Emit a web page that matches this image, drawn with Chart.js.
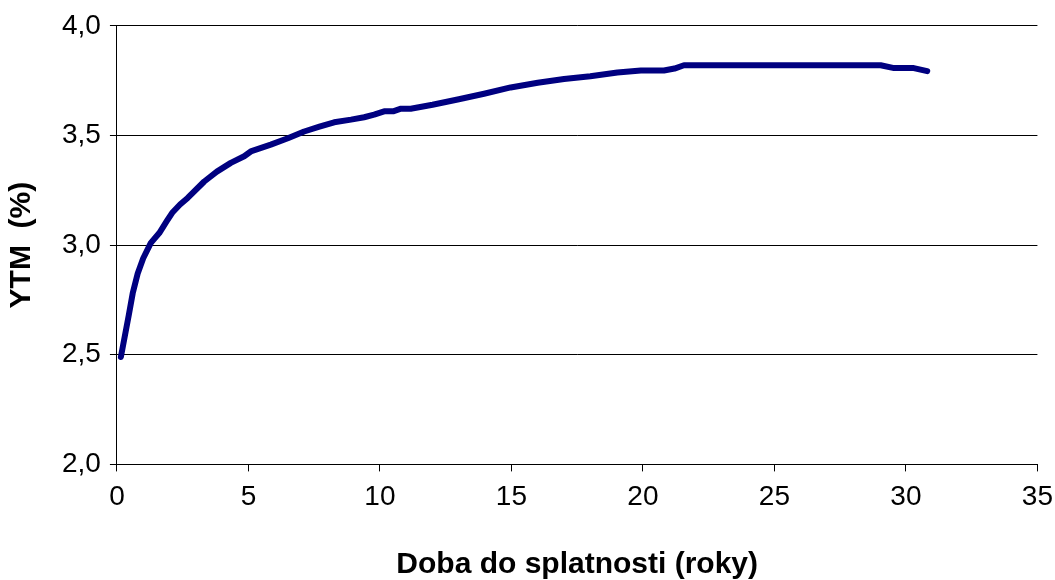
<!DOCTYPE html>
<html>
<head>
<meta charset="utf-8">
<script src="https://cdn.jsdelivr.net/npm/chart.js@4/dist/chart.umd.min.js"></script>
<style>
  html, body { margin: 0; padding: 0; background: #fff; overflow: hidden; }
  #wrap { width: 1055px; height: 580px; position: relative; overflow: hidden; }
</style>
</head>
<body>
<div id="wrap"><canvas id="c" width="1062" height="580"></canvas></div>
<script>
// Maturity (years) and YTM (%)
const maturity = [0.15, 0.45, 0.6, 0.79, 1.0, 1.29, 1.61, 1.9, 2.12, 2.4, 2.69, 3.32, 3.8, 4.33, 4.84, 5.09, 5.85, 6.5, 7.12, 7.7, 8.26, 8.9, 9.4, 9.78, 10.16, 10.5, 10.8, 11.17, 12, 13, 13.96, 14.97, 16, 17, 18, 19.03, 19.92, 20.8, 21.2, 21.56, 22.2, 29.04, 29.55, 30.3, 30.81];
const ytm      = [2.49, 2.68, 2.78, 2.87, 2.94, 3.01, 3.055, 3.11, 3.15, 3.185, 3.215, 3.29, 3.335, 3.375, 3.405, 3.427, 3.458, 3.487, 3.518, 3.54, 3.56, 3.572, 3.583, 3.595, 3.61, 3.61, 3.622, 3.622, 3.64, 3.665, 3.69, 3.719, 3.74, 3.757, 3.77, 3.787, 3.796, 3.796, 3.805, 3.82, 3.82, 3.82, 3.807, 3.807, 3.793];
const xTitle = 'Doba do splatnosti (roky)';
const yTitle = 'YTM  (%)';

const points = maturity.map((x, i) => ({ x: x, y: ytm[i] }));
const FONT = '"Liberation Sans", Arial, sans-serif';

new Chart(document.getElementById('c'), {
  type: 'line',
  data: {
    datasets: [{
      data: points,
      borderColor: '#000080',
      borderWidth: 6,
      pointRadius: 0,
      fill: false,
      tension: 0,
      borderCapStyle: 'round',
      borderJoinStyle: 'round'
    }]
  },
  options: {
    responsive: false,
    animation: false,
    devicePixelRatio: 1,
    layout: { padding: { top: 23, right: 3, bottom: 0, left: 7 } },
    plugins: { legend: { display: false }, tooltip: { enabled: false } },
    scales: {
      x: {
        type: 'linear',
        min: 0, max: 35,
        ticks: { stepSize: 5, color: '#000', font: { family: FONT, size: 28 }, padding: 9, maxRotation: 0 },
        grid: { drawOnChartArea: false, tickLength: 7, color: '#000' },
        border: { color: '#000', width: 1 },
        title: { display: true, text: xTitle, color: '#000', font: { family: FONT, size: 30, weight: 'bold', lineHeight: 1 }, padding: { top: 27, bottom: 0 } }
      },
      y: {
        min: 2, max: 4,
        ticks: {
          stepSize: 0.5, color: '#000', font: { family: FONT, size: 28 }, padding: 9,
          callback: v => v.toFixed(1).replace('.', ',')
        },
        grid: { color: '#000', tickLength: 7 },
        border: { color: '#000', width: 1 },
        title: { display: true, text: yTitle, color: '#000', font: { family: FONT, size: 30, weight: 'bold', lineHeight: 1 }, padding: { top: 0, bottom: 16 } }
      }
    }
  }
});
</script>
</body>
</html>
